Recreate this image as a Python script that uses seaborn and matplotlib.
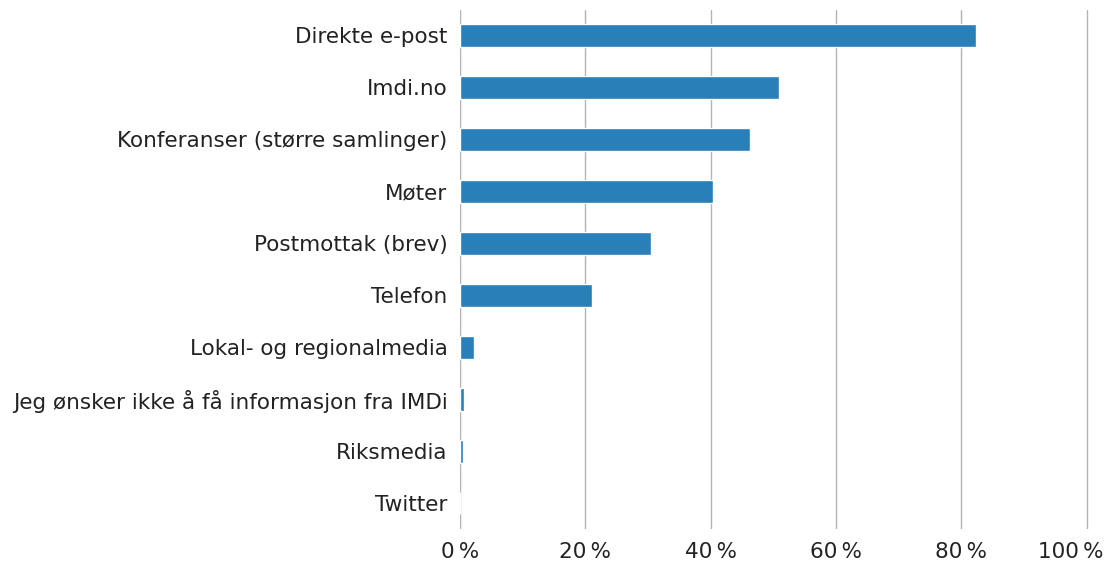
import pandas as pd
import seaborn as sns
import matplotlib.pyplot as plt
from matplotlib.transforms import ScaledTranslation

# Survey answers: preferred channels for information (share of respondents)
kanaler = [
    'Direkte e-post',
    'Imdi.no',
    'Konferanser (større samlinger)',
    'Møter',
    'Postmottak (brev)',
    'Telefon',
    'Lokal- og regionalmedia',
    'Jeg ønsker ikke å få informasjon fra IMDi',
    'Riksmedia',
    'Twitter',
]
andel = [82.3, 50.9, 46.2, 40.3, 30.4, 21.0, 2.3, 0.7, 0.4, 0.0]
x_ticks = [0, 20, 40, 60, 80, 100]

df = pd.DataFrame({'kanal': kanaler, 'andel': andel})

sns.set_theme(style="white")
plt.rcParams['font.family'] = ['DejaVu Sans']

fig = plt.figure(figsize=(11.05, 5.65), dpi=100)
ax = fig.add_axes([460 / 1105, 36 / 565, 630 / 1105, 519.5 / 565])

sns.barplot(data=df, x='andel', y='kanal', color='#2980b9', width=0.44,
            saturation=1, ax=ax)

ax.set_xlim(0, 100.5)
ax.set_xticks(x_ticks)
ax.set_xticklabels([f'{t}\u2009%' for t in x_ticks])
ax.xaxis.grid(True, color='#b3b3b3', linewidth=1)
ax.set_axisbelow(True)
ax.axvline(0, color='#b3b3b3', linewidth=1.5, zorder=0)

for side in ['top', 'right', 'bottom', 'left']:
    ax.spines[side].set_visible(False)

ax.tick_params(axis='x', length=0, pad=9, labelsize=15.5, labelcolor='#222222')
ax.tick_params(axis='y', length=0, pad=9, labelsize=15.5, labelcolor='#222222')
ax.set_xlabel('')
ax.set_ylabel('')

# the last tick label sits a bit left so it stays inside the picture
last = ax.get_xticklabels()[-1]
last.set_transform(last.get_transform() + ScaledTranslation(-0.16, 0, fig.dpi_scale_trans))

plt.savefig('out.png', dpi=100)
